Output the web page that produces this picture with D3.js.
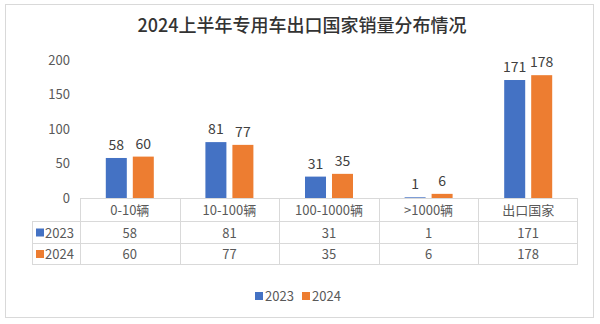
<!DOCTYPE html>
<html><head><meta charset="utf-8">
<script src="https://cdn.jsdelivr.net/npm/d3@7"></script>
<style>
html,body{margin:0;padding:0;background:#fff;}
svg{display:block;font-family:"Noto Sans CJK SC","Noto Sans",sans-serif;}
</style></head>
<body><svg id="c" width="600" height="324"></svg>
<script>
const title = "2024上半年专用车出口国家销量分布情况";
const categories = ["0-10辆","10-100辆","100-1000辆",">1000辆","出口国家"];
const seriesNames = ["2023","2024"];
const values2023 = [58,81,31,1,171];
const values2024 = [60,77,35,6,178];
const yTicks = [0,50,100,150,200];
const colors = ["#4472C4","#ED7D31"];
const seriesValues = [values2023, values2024];

const svg = d3.select("#c");
svg.append("rect").attr("x",5.5).attr("y",4.5).attr("width",588).attr("height",313)
  .attr("fill","#fff").attr("stroke","#d9d9d9");

svg.append("text").attr("x",302).attr("y",32).attr("text-anchor","middle")
  .attr("font-size",18).attr("font-weight",500).attr("fill","#333333").text(title);

const x0 = d3.scaleBand().domain(categories).range([80,578]).padding(0);
const bw = x0.bandwidth();
const x1 = d3.scaleBand().domain(seriesNames).range([bw/2-24, bw/2+24]).paddingInner(0.222).paddingOuter(0);
const y = d3.scaleLinear().domain([0,200]).range([198,60]);

// y axis labels
const yAxis = d3.axisLeft(y).tickValues(yTicks).tickSize(0).tickPadding(0);
const ga = svg.append("g").attr("transform","translate(70,0)").call(yAxis);
ga.select(".domain").remove();
ga.selectAll("text").attr("font-size",13).attr("fill","#595959")
  .attr("font-family","'Noto Sans CJK SC','Noto Sans',sans-serif");

// bars
const gCat = svg.selectAll("g.cat").data(categories).join("g")
  .attr("class","cat").attr("transform",d=>`translate(${x0(d)},0)`);
seriesNames.forEach((s,si)=>{
  gCat.append("rect")
    .attr("x",x1(s)).attr("width",x1.bandwidth())
    .attr("y",(d,i)=>y(seriesValues[si][i]))
    .attr("height",(d,i)=>y(0)-y(seriesValues[si][i]))
    .attr("fill",colors[si]);
  gCat.append("text")
    .attr("x",x1(s)+x1.bandwidth()/2)
    .attr("y",(d,i)=>y(seriesValues[si][i])-8)
    .attr("text-anchor","middle").attr("font-size",14).attr("fill","#404040")
    .text((d,i)=>seriesValues[si][i]);
});

// data table
const gridC = "#d9d9d9";
const rowY = [198, 221.5, 243.5, 264.5];
const tableLeft = 32, tableRight = 578;
const tg = svg.append("g");
tg.append("line").attr("x1",80).attr("x2",tableRight).attr("y1",rowY[0]+0.5).attr("y2",rowY[0]+0.5).attr("stroke",gridC);
for (let r=1;r<4;r++){
  tg.append("line").attr("x1",tableLeft).attr("x2",tableRight).attr("y1",rowY[r]).attr("y2",rowY[r]).attr("stroke",gridC);
}
tg.append("line").attr("x1",tableLeft+0.5).attr("x2",tableLeft+0.5).attr("y1",rowY[1]).attr("y2",rowY[3]).attr("stroke",gridC);
categories.forEach(c=>{
  tg.append("line").attr("x1",Math.round(x0(c))+0.5).attr("x2",Math.round(x0(c))+0.5)
    .attr("y1",rowY[0]).attr("y2",rowY[3]).attr("stroke",gridC);
});
tg.append("line").attr("x1",tableRight-0.5).attr("x2",tableRight-0.5).attr("y1",rowY[0]).attr("y2",rowY[3]).attr("stroke",gridC);

tg.selectAll("text.cl").data(categories).join("text").attr("class","cl")
  .attr("x",d=>x0(d)+bw/2).attr("y",(rowY[0]+rowY[1])/2+5)
  .attr("text-anchor","middle").attr("font-size",13).attr("fill","#595959").text(d=>d);
seriesNames.forEach((s,si)=>{
  const cy = (rowY[si+1]+rowY[si+2])/2;
  tg.append("rect").attr("x",36).attr("y",cy-4).attr("width",8).attr("height",8).attr("fill",colors[si]);
  tg.append("text").attr("x",45).attr("y",cy+5).attr("font-size",13).attr("fill","#595959").text(s);
  tg.selectAll(null).data(categories).join("text")
    .attr("x",d=>x0(d)+bw/2).attr("y",cy+5).attr("text-anchor","middle")
    .attr("font-size",13).attr("fill","#595959")
    .text((d,i)=>seriesValues[si][i]);
});

// legend
const lg = svg.append("g").attr("transform","translate(255,297)");
let lx = 0;
seriesNames.forEach((s,si)=>{
  lg.append("rect").attr("x",lx).attr("y",-5).attr("width",8).attr("height",8).attr("fill",colors[si]);
  lg.append("text").attr("x",lx+10).attr("y",4).attr("font-size",13).attr("fill","#595959").text(s);
  lx += 47;
});
</script></body></html>
